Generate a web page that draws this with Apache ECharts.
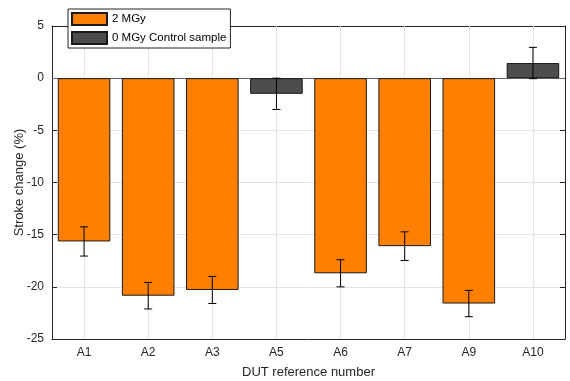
<!DOCTYPE html>
<html><head><meta charset="utf-8">
<script src="https://cdn.jsdelivr.net/npm/echarts@6/dist/echarts.min.js"></script>
<style>html,body{margin:0;padding:0;background:#fff}#c{width:570px;height:381px}</style>
</head><body><div id="c"></div>
<script>
const categories = ['A1','A2','A3','A5','A6','A7','A9','A10'];
const irradiated = [-15.65, -20.85, -20.3, null, -18.7, -16.1, -21.6, null];
const control = [null, null, null, -1.5, null, null, null, 1.45];
const errors = [1.4, 1.27, 1.3, 1.5, 1.3, 1.37, 1.26, 1.5];
const seriesNames = ['2 MGy', '0 MGy Control sample'];
const yTicks = {min: -25, max: 5, interval: 5};
const baseline = 0;

const values = irradiated.map((v, i) => v !== null ? v : control[i]);
const errData = values.map((v, i) => [i, v, errors[i]]);

const axisCol = '#262626';
const gridCol = '#e3e3e3';
const font = 'Liberation Sans, Arial, sans-serif';
const chart = echarts.init(document.getElementById('c'), null, {renderer: 'canvas'});
chart.setOption({
  animation: false,
  textStyle: {fontFamily: font},
  grid: {left: 52, right: 5, top: 26, bottom: 42, containLabel: false, outerBoundsMode: 'none'},
  legend: {
    data: seriesNames, orient: 'vertical', left: 68, top: 9, icon: 'rect',
    itemWidth: 35, itemHeight: 12, itemGap: 5, padding: [3, 4, 3, 3],
    backgroundColor: '#fff', borderColor: axisCol, borderWidth: 1, borderRadius: 0,
    textStyle: {fontSize: 11.5, color: '#000', fontFamily: font},
    selectedMode: false
  },
  xAxis: [{
    type: 'category', data: categories, position: 'bottom',
    name: 'DUT reference number', nameLocation: 'middle', nameGap: 27, nameMoveOverlap: false,
    nameTextStyle: {fontSize: 13, color: axisCol, fontFamily: font},
    axisLine: {onZero: false, lineStyle: {color: axisCol, width: 1}},
    axisTick: {inside: true, alignWithLabel: true, length: 5, lineStyle: {color: axisCol}},
    axisLabel: {fontSize: 12, color: axisCol, margin: 8, fontFamily: font},
    splitLine: {show: false}
  }, {
    type: 'category', data: categories, position: 'top',
    axisLine: {onZero: false, lineStyle: {color: axisCol, width: 1}},
    axisTick: {inside: true, alignWithLabel: true, length: 5, lineStyle: {color: axisCol}},
    axisLabel: {show: false}, splitLine: {show: false}
  }],
  yAxis: [{
    type: 'value', min: yTicks.min, max: yTicks.max, interval: yTicks.interval, position: 'left',
    name: 'Stroke change (%)', nameLocation: 'middle', nameGap: 26, nameRotate: 90, nameMoveOverlap: false,
    nameTextStyle: {fontSize: 13, color: axisCol, fontFamily: font},
    axisLine: {show: true, onZero: false, lineStyle: {color: axisCol, width: 1}},
    axisTick: {show: true, inside: true, length: 5, lineStyle: {color: axisCol}},
    axisLabel: {fontSize: 12, color: axisCol, margin: 8, fontFamily: font},
    splitLine: {show: true, lineStyle: {color: gridCol, width: 1}}
  }, {
    type: 'value', min: yTicks.min, max: yTicks.max, interval: yTicks.interval, position: 'right',
    axisLine: {show: true, onZero: false, lineStyle: {color: axisCol, width: 1}},
    axisTick: {show: true, inside: true, length: 5, lineStyle: {color: axisCol}},
    axisLabel: {show: false}, splitLine: {show: false}
  }],
  series: [{
    name: seriesNames[0], type: 'bar', stack: 's', data: irradiated.map(v => v === null ? '-' : v),
    barCategoryGap: '18%', z: 3,
    itemStyle: {color: '#FF8000', borderColor: '#1a1a1a', borderWidth: 1},
    markLine: {
      silent: true, symbol: 'none', z: 1, label: {show: false},
      lineStyle: {color: gridCol, width: 1, type: 'solid'},
      data: categories.map(c => ({xAxis: c}))
    }
  }, {
    name: seriesNames[1], type: 'bar', stack: 's', data: control.map(v => v === null ? '-' : v), z: 3,
    itemStyle: {color: '#4D4D4D', borderColor: '#1a1a1a', borderWidth: 1},
    markLine: {
      silent: true, symbol: 'none', z: 2, label: {show: false},
      lineStyle: {color: '#666666', width: 1, type: 'solid'},
      data: [{yAxis: baseline}]
    }
  }, {
    name: 'err', type: 'custom', data: errData, z: 10,
    renderItem: function (params, api) {
      const i = api.value(0), v = api.value(1), e = api.value(2);
      const hi = api.coord([i, v + e]);
      const lo = api.coord([i, v - e]);
      const w = 4;
      const st = {stroke: '#000', lineWidth: 1};
      return {type: 'group', children: [
        {type: 'line', shape: {x1: hi[0], y1: hi[1], x2: lo[0], y2: lo[1]}, style: st},
        {type: 'line', shape: {x1: hi[0] - w, y1: hi[1], x2: hi[0] + w, y2: hi[1]}, style: st},
        {type: 'line', shape: {x1: lo[0] - w, y1: lo[1], x2: lo[0] + w, y2: lo[1]}, style: st}
      ]};
    }
  }]
});
</script></body></html>
